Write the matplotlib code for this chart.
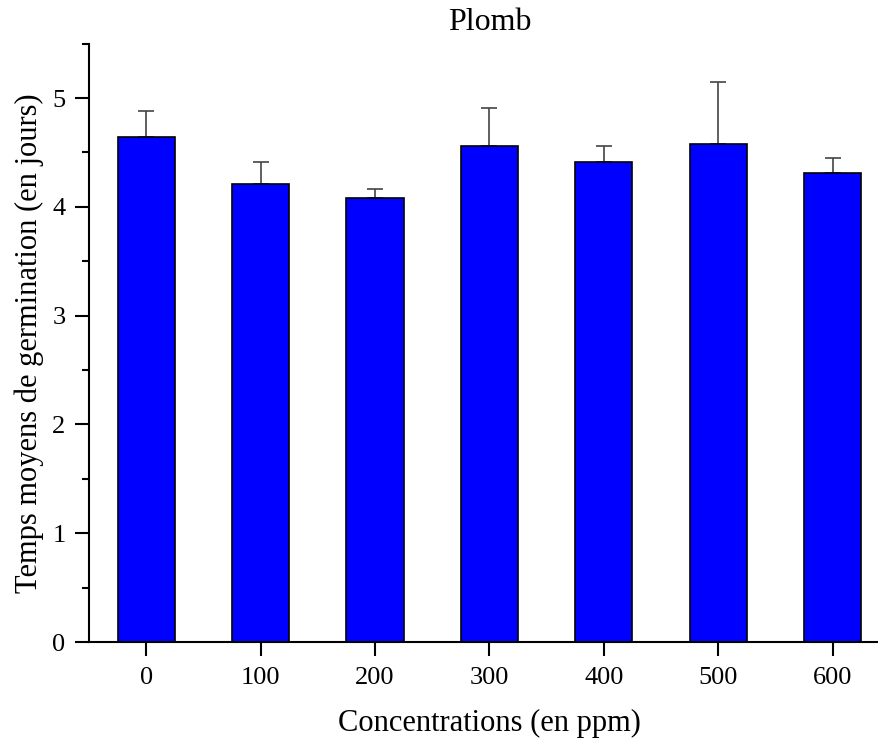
import matplotlib.pyplot as plt
from matplotlib.ticker import MultipleLocator

concentrations = [0, 100, 200, 300, 400, 500, 600]
mean_times = [4.64, 4.21, 4.08, 4.56, 4.41, 4.58, 4.31]
errors = [0.24, 0.20, 0.08, 0.35, 0.15, 0.57, 0.14]

plt.rcParams['font.family'] = ['Liberation Serif', 'DejaVu Serif']

fig = plt.figure(figsize=(8.79, 7.40), dpi=100)
# axes runs a little past the right edge, as in the reference
ax = fig.add_axes([0.1013, 0.1324, 0.911, 0.8086])

ax.bar(concentrations, mean_times, width=50, color='#0000FF',
       edgecolor='black', linewidth=1.2, zorder=2)
ax.errorbar(concentrations, mean_times, yerr=[[0] * len(errors), errors],
            fmt='none', ecolor='#444444', elinewidth=1.2, capsize=6,
            capthick=1.2, zorder=1)

ax.set_xlim(-50, 650)
ax.set_ylim(0, 5.5)
ax.set_xticks(concentrations)
ax.yaxis.set_major_locator(MultipleLocator(1))
ax.yaxis.set_minor_locator(MultipleLocator(0.5))

for side in ('top', 'right'):
    ax.spines[side].set_visible(False)
for side in ('left', 'bottom'):
    ax.spines[side].set_linewidth(1.5)

ax.tick_params(axis='both', which='major', labelsize=19, width=1.5)
ax.tick_params(axis='y', which='major', length=10, pad=7)
ax.tick_params(axis='y', which='minor', length=5, width=1.5)
ax.tick_params(axis='x', which='major', length=10, pad=8)

ax.set_xlabel('Concentrations (en ppm)', fontsize=22, labelpad=14)
ax.set_ylabel('Temps moyens de germination (en jours)', fontsize=22, labelpad=6)
ax.set_title('Plomb', fontsize=23, pad=10)

fig.savefig('out.png', dpi=100)
